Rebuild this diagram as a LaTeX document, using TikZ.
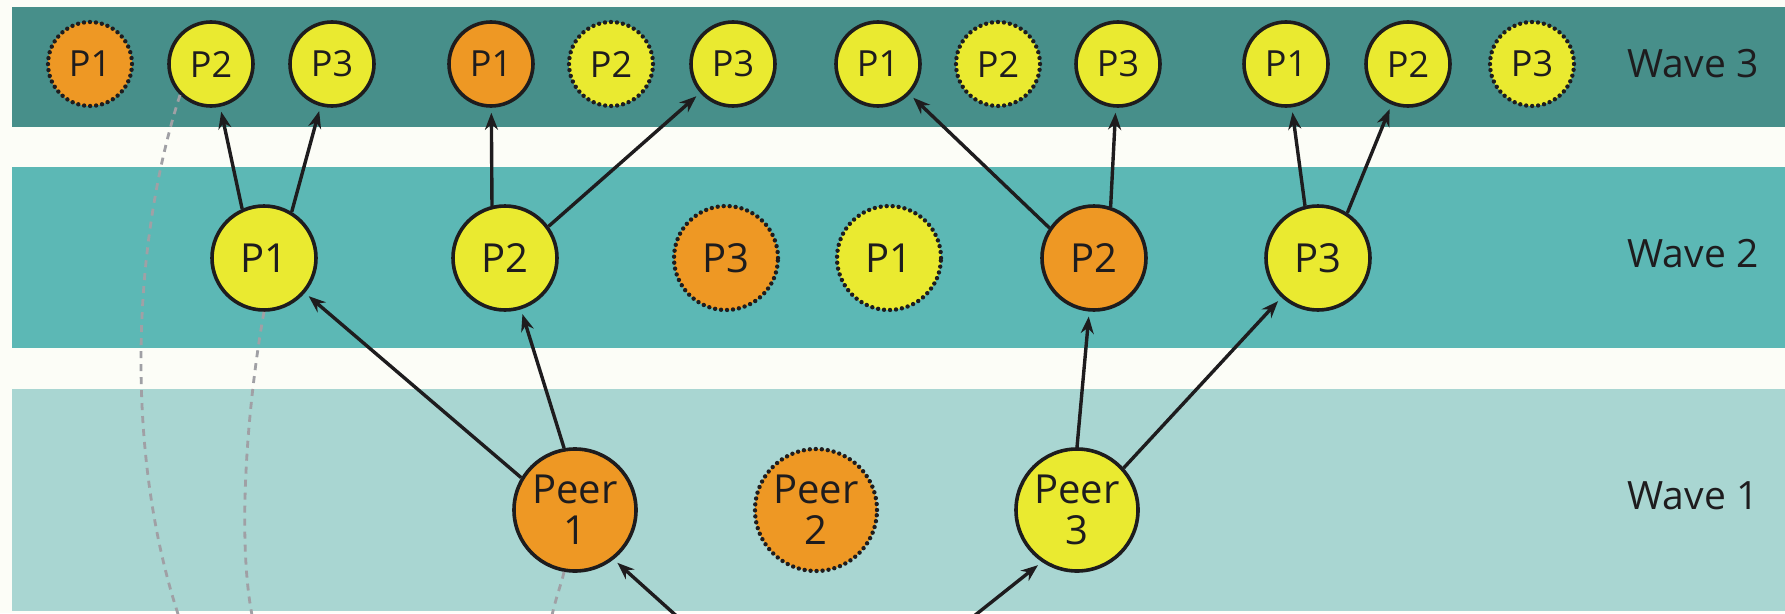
\documentclass[tikz,border=0pt]{standalone}
\usepackage{fontspec}
\setmainfont{Open Sans}
\usetikzlibrary{arrows.meta,shapes.geometric}
\definecolor{bgc}{RGB}{252,253,247}
\definecolor{wthree}{RGB}{71,143,138}
\definecolor{wtwo}{RGB}{92,184,181}
\definecolor{wone}{RGB}{169,214,210}
\definecolor{yel}{RGB}{234,234,48}
\definecolor{org}{RGB}{238,152,36}
\definecolor{ink}{RGB}{30,28,30}
\definecolor{dashc}{RGB}{160,160,165}
\tikzset{
  small/.style={circle, minimum size=84pt, inner sep=0pt, text=ink, font=\fontsize{36}{36}\selectfont},
  mid/.style={circle, minimum size=104pt, inner sep=0pt, text=ink, font=\fontsize{40}{40}\selectfont},
  big/.style={circle, minimum size=122pt, inner sep=0pt, align=center, text=ink, font=\fontsize{40}{41}\selectfont},
  yl/.style={fill=yel},
  og/.style={fill=org},
  solidb/.style={draw=ink, line width=3.6pt},
  dotb/.style={draw=ink, line width=4.4pt, dash pattern=on 0pt off 6pt, line cap=round},
  arr/.style={draw=ink, line width=3.4pt, -{Stealth[length=17pt,width=13pt]}, shorten >=5pt},
  dsh/.style={draw=dashc, line width=2.8pt, dash pattern=on 7pt off 6pt},
  wavelabel/.style={anchor=west, text=ink, font=\fontsize{39}{39}\selectfont}
}
\begin{document}
\begin{tikzpicture}[x=1pt,y=-1pt]
\useasboundingbox (0,0) rectangle (1785,613);
\fill[bgc] (0,0) rectangle (1785,613);
\fill[wthree] (12,7) rectangle (1785,127);
\fill[wtwo] (12,167) rectangle (1785,348);
\fill[wone] (12,389) rectangle (1785,611);
\clip (0,0) rectangle (1785,613);

% Wave 3
\node[small,og,dotb]   (a1) at (90,64)   {P1};
\node[small,yl,solidb] (a2) at (211,64)  {P2};
\node[small,yl,solidb] (a3) at (332,64)  {P3};
\node[small,og,solidb] (b1) at (491,64)  {P1};
\node[small,yl,dotb]   (b2) at (611,64)  {P2};
\node[small,yl,solidb] (b3) at (733,64)  {P3};
\node[small,yl,solidb] (c1) at (878,64)  {P1};
\node[small,yl,dotb]   (c2) at (998,64)  {P2};
\node[small,yl,solidb] (c3) at (1118,64) {P3};
\node[small,yl,solidb] (d1) at (1286,64) {P1};
\node[small,yl,solidb] (d2) at (1408,64) {P2};
\node[small,yl,dotb]   (d3) at (1532,64) {P3};
\node[wavelabel] (l3) at (1624,64) {Wave 3};

% Wave 2
\node[mid,yl,solidb] (e1) at (264,258)  {P1};
\node[mid,yl,solidb] (e2) at (505,258)  {P2};
\node[mid,og,dotb]   (e3) at (726,258)  {P3};
\node[mid,yl,dotb]   (e4) at (889,258)  {P1};
\node[mid,og,solidb] (e5) at (1094,258) {P2};
\node[mid,yl,solidb] (e6) at (1318,258) {P3};
\node[wavelabel] (l2) at (1624,254) {Wave 2};

% Wave 1
\node[big,og,solidb] (f1) at (575,510)  {Peer\\1};
\node[big,og,dotb]   (f2) at (816,510)  {Peer\\2};
\node[big,yl,solidb] (f3) at (1077,510) {Peer\\3};
\node[wavelabel] (l1) at (1624,496) {Wave 1};

% free ends at the bottom
\coordinate (s1) at (681,620);
\coordinate (s3) at (969,620);
\coordinate (z1) at (180,620);
\coordinate (z2) at (253,620);
\coordinate (z3) at (551,620);

% dashed arcs
\draw[dsh] (a2.225) .. controls (130,250) and (126,460) .. (z1);
\draw[dsh] (e1.south) .. controls (248,400) and (236,540) .. (z2);
\draw[dsh] (f1.-100) .. controls (561,585) and (555,600) .. (z3);

% arrows
\draw[arr] (s1) -- (f1.-52);
\draw[arr] (s3) -- (f3.236);
\draw[arr] (f1.149) -- (e1);
\draw[arr] (f1.100) -- (e2);
\draw[arr] (f3.90) -- (e5);
\draw[arr] (f3.42) -- (e6);
\draw[arr] (e1.114) -- (a2);
\draw[arr] (e1.59) -- (a3);
\draw[arr] (e2.104) -- (b1);
\draw[arr] (e2.36) -- (b3);
\draw[arr] (e5.146) -- (c1);
\draw[arr] (e5.72) -- (c3);
\draw[arr] (e6.104) -- (d1);
\draw[arr] (e6.57) -- (d2);
\end{tikzpicture}
\end{document}
